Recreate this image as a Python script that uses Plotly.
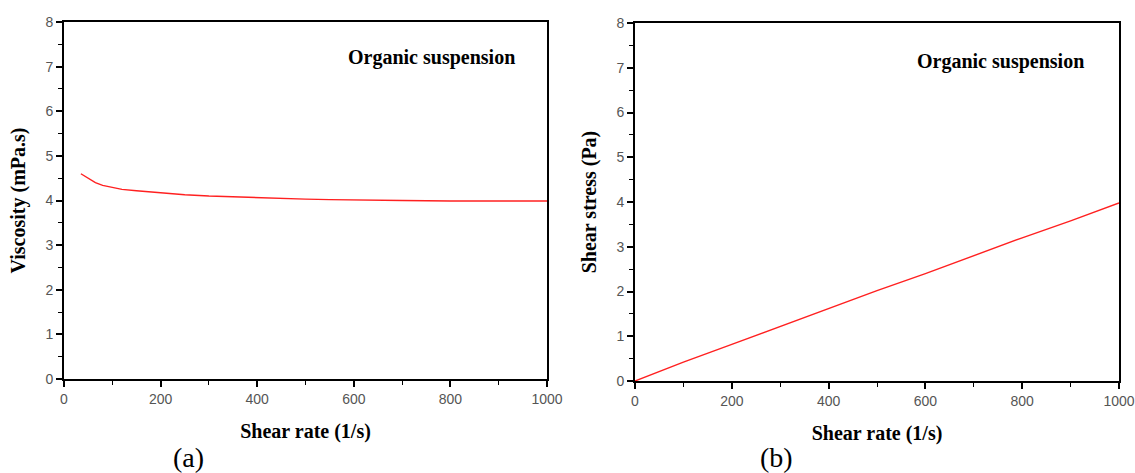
import plotly.graph_objects as go

# Panel (a): viscosity vs shear rate
rate_a = [35, 45, 55, 65, 80, 100, 120, 150, 180, 210, 250, 300, 350, 400, 450, 500, 550, 600, 650, 700, 800, 900, 1000]
visc_a = [4.60, 4.53, 4.47, 4.40, 4.34, 4.29, 4.25, 4.22, 4.19, 4.16, 4.13, 4.10, 4.08, 4.07, 4.05, 4.03, 4.02, 4.01, 4.00, 4.00, 3.99, 3.99, 3.99]

# Panel (b): shear stress vs shear rate
rate_b = [0, 100, 200, 300, 400, 500, 600, 700, 800, 900, 1000]
stress_b = [0.0, 0.42, 0.82, 1.22, 1.62, 2.02, 2.40, 2.80, 3.20, 3.58, 3.98]

x_ticks = [0, 200, 400, 600, 800, 1000]
y_ticks = [0, 1, 2, 3, 4, 5, 6, 7, 8]

W, H = 1135, 473
def px(x):
    return x / W
def py(y):
    return (H - y) / H

fig = go.Figure()
fig.add_trace(go.Scatter(x=rate_a, y=visc_a, mode="lines", line=dict(color="#ff2020", width=1.4),
                         xaxis="x", yaxis="y", showlegend=False))
fig.add_trace(go.Scatter(x=rate_b, y=stress_b, mode="lines", line=dict(color="#ff2020", width=1.4),
                         xaxis="x2", yaxis="y2", showlegend=False))

serif = "Liberation Serif, Times New Roman, serif"
sans = "Liberation Sans, Arial, sans-serif"

def xaxis(domain, anchor):
    return dict(domain=domain, anchor=anchor, range=[0, 1000], tickvals=x_ticks,
                ticks="outside", ticklen=6, tickwidth=1.5, tickcolor="black",
                minor=dict(ticks="outside", dtick=100, ticklen=4, tickwidth=1.2, tickcolor="black"),
                showline=True, linecolor="black", linewidth=2, mirror=True,
                showgrid=False, zeroline=False, automargin=False,
                tickfont=dict(family=sans, size=14, color="#555"),
                title=dict(text="<b>Shear rate (1/s)</b>", font=dict(family=serif, size=20, color="black"), standoff=18))

def yaxis(domain, anchor, title):
    return dict(domain=domain, anchor=anchor, range=[0, 8], tickvals=y_ticks,
                ticks="outside", ticklen=6, tickwidth=1.5, tickcolor="black",
                minor=dict(ticks="outside", dtick=0.5, ticklen=4, tickwidth=1.2, tickcolor="black"),
                showline=True, linecolor="black", linewidth=2, mirror=True,
                showgrid=False, zeroline=False, automargin=False,
                tickfont=dict(family=sans, size=14, color="#555"),
                title=dict(text="<b>" + title + "</b>", font=dict(family=serif, size=20, color="black"), standoff=14))

fig.update_layout(
    width=W, height=H,
    margin=dict(l=0, r=0, t=0, b=0),
    paper_bgcolor="white", plot_bgcolor="white",
    xaxis=xaxis([px(64), px(547)], "y"),
    yaxis=yaxis([py(379), py(22)], "x", "Viscosity (mPa.s)"),
    xaxis2=xaxis([px(635), px(1119)], "y2"),
    yaxis2=yaxis([py(381), py(23)], "x2", "Shear stress (Pa)"),
)

annots = [
    dict(text="<b>Organic suspension</b>", x=px(431), y=py(58)),
    dict(text="<b>Organic suspension</b>", x=px(1001), y=py(61)),
]
for a in annots:
    fig.add_annotation(xref="paper", yref="paper", x=a["x"], y=a["y"], text=a["text"], showarrow=False,
                       xanchor="center", yanchor="middle", font=dict(family=serif, size=20, color="black"))

for lab, x in [("(a)", 188), ("(b)", 777)]:
    fig.add_annotation(xref="paper", yref="paper", x=px(x), y=py(457), text=lab, showarrow=False,
                       xanchor="center", yanchor="middle", font=dict(family=serif, size=28, color="black"))

fig.write_html("out.html", config={"displayModeBar": False},
               post_script="document.body.style.margin='0';document.body.style.overflow='hidden';")
